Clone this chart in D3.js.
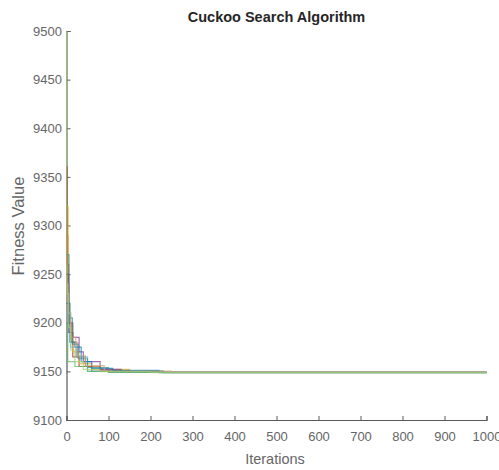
<!DOCTYPE html>
<html>
<head>
<meta charset="utf-8">
<script src="https://cdn.jsdelivr.net/npm/d3@7"></script>
<style>
  html, body { margin: 0; padding: 0; background: #fff; }
  svg text { font-family: "Liberation Sans", Arial, sans-serif; }
</style>
</head>
<body>
<svg id="chart" width="499" height="470"></svg>
<script>
// Best fitness per run: iterations where the best value improved, and the value from there on.
const runColors = ["#9fd070", "#D95319", "#7E2F8E", "#0072BD", "#4DBEEE", "#A2142F", "#EDB120", "#2A8C8C", "#5DB85C", "#C9A27A"];

const run1Iter = [0, 1, 5, 10, 20, 40, 80, 200, 1000];
const run1Val  = [9500, 9230, 9195, 9172, 9160, 9152, 9149.6, 9148.7, 9148.7];

const run2Iter = [0, 3, 6, 12, 25, 45, 80, 150, 1000];
const run2Val  = [9290, 9240, 9200, 9180, 9165, 9155, 9150.5, 9148.9, 9148.9];

const run3Iter = [0, 5, 15, 30, 40, 80, 130, 1000];
const run3Val  = [9250, 9190, 9185, 9170, 9160, 9152, 9149, 9149];

const run4Iter = [0, 8, 20, 35, 60, 110, 220, 1000];
const run4Val  = [9220, 9180, 9175, 9160, 9153, 9151, 9148.8, 9148.8];

const run5Iter = [0, 10, 25, 50, 100, 1000];
const run5Val  = [9210, 9175, 9165, 9150, 9149, 9149];

const run6Iter = [0, 2, 5, 15, 30, 60, 100, 1000];
const run6Val  = [9360, 9260, 9200, 9165, 9155, 9150, 9149, 9149];

const run7Iter = [0, 4, 8, 15, 30, 60, 150, 1000];
const run7Val  = [9320, 9220, 9190, 9170, 9158, 9152, 9149, 9149];

const run8Iter = [0, 6, 14, 28, 50, 100, 230, 1000];
const run8Val  = [9270, 9205, 9178, 9163, 9154, 9150.5, 9148.8, 9148.8];

const run9Iter = [0, 3, 20, 50, 100, 1000];
const run9Val  = [9200, 9160, 9155, 9150, 9149, 9149];

const run10Iter = [0, 4, 10, 22, 45, 90, 250, 1000];
const run10Val  = [9240, 9210, 9185, 9166, 9156, 9150.3, 9148.6, 9148.6];

const runIters = [run1Iter, run2Iter, run3Iter, run4Iter, run5Iter, run6Iter, run7Iter, run8Iter, run9Iter, run10Iter];
const runVals  = [run1Val, run2Val, run3Val, run4Val, run5Val, run6Val, run7Val, run8Val, run9Val, run10Val];

const xTicks = [0, 100, 200, 300, 400, 500, 600, 700, 800, 900, 1000];
const yTicks = [9100, 9150, 9200, 9250, 9300, 9350, 9400, 9450, 9500];

const svg = d3.select("#chart");
const plotLeft = 66.5, plotRight = 486.5, plotTop = 31, plotBottom = 420;

const x = d3.scaleLinear().domain([0, 1000]).range([plotLeft, plotRight]);
const y = d3.scaleLinear().domain([9100, 9500]).range([plotBottom, plotTop]);

const axisColor = "#5a5a5a";
const labelColor = "#666";
const fmt = d3.format("d");

// Axes with inward ticks
const xAxis = d3.axisBottom(x).tickValues(xTicks).tickFormat(fmt)
  .tickSizeInner(-4).tickSizeOuter(-4).tickPadding(12);
const yAxis = d3.axisLeft(y).tickValues(yTicks).tickFormat(fmt)
  .tickSizeInner(-4).tickSizeOuter(-4).tickPadding(4.5);

const gx = svg.append("g").attr("transform", `translate(0,${plotBottom})`).call(xAxis);
const gy = svg.append("g").attr("transform", `translate(${plotLeft},0)`).call(yAxis);

[gx, gy].forEach(g => {
  g.select(".domain").attr("stroke", axisColor).attr("stroke-width", 1.2);
  g.selectAll(".tick line").attr("stroke", axisColor).attr("stroke-width", 1);
  g.selectAll(".tick text")
    .attr("fill", labelColor)
    .attr("font-size", 13)
    .style("font-family", '"Liberation Sans", Arial, sans-serif');
});

// Convergence curves, drawn over the axes
const line = d3.line()
  .x(d => x(d[0]))
  .y(d => y(d[1]))
  .curve(d3.curveStepAfter);

const runs = runIters.map((it, i) => it.map((v, j) => [v, runVals[i][j]]));
const order = [5, 6, 1, 2, 3, 4, 7, 8, 9, 0];
svg.append("g").selectAll("path")
  .data(order)
  .join("path")
  .attr("d", i => line(runs[i]))
  .attr("fill", "none")
  .attr("stroke", i => runColors[i])
  .attr("stroke-opacity", 0.7)
  .attr("stroke-width", 1.2);

// Title and axis labels
svg.append("text")
  .attr("x", 276.5)
  .attr("y", 22)
  .attr("text-anchor", "middle")
  .attr("font-size", 14.5)
  .attr("font-weight", "bold")
  .attr("fill", "#262626")
  .text("Cuckoo Search Algorithm");

svg.append("text")
  .attr("x", 275)
  .attr("y", 464)
  .attr("text-anchor", "middle")
  .attr("font-size", 14.5)
  .attr("fill", labelColor)
  .text("Iterations");

svg.append("text")
  .attr("transform", "translate(24,226) rotate(-90)")
  .attr("text-anchor", "middle")
  .attr("font-size", 16.5)
  .attr("fill", labelColor)
  .text("Fitness Value");
</script>
</body>
</html>
